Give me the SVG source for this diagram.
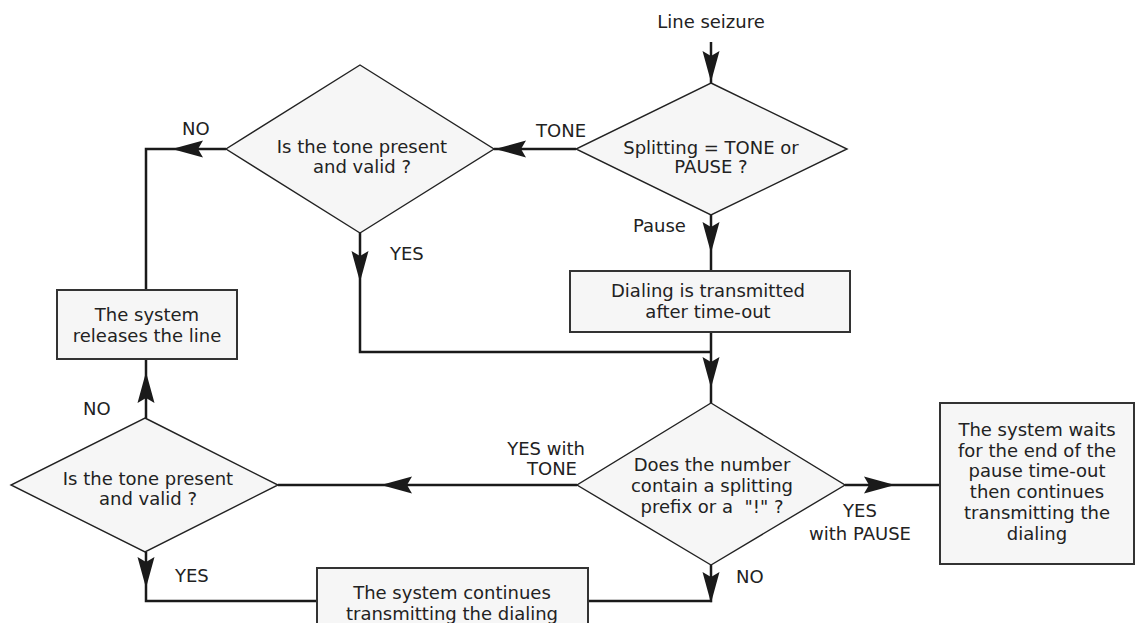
<svg xmlns="http://www.w3.org/2000/svg" xmlns:xlink="http://www.w3.org/1999/xlink" width="1136" height="623" viewBox="0 0 1136 623">
<style>
  text { font-family: "DejaVu Sans", "Liberation Sans", sans-serif; font-size: 18px; fill: #222; }
  .c { text-anchor: middle; }
  .shape { fill: #f6f6f6; stroke: #222; stroke-width: 1.4; }
  .box { fill: #f6f6f6; stroke: #333; stroke-width: 2; }
  .conn { fill: none; stroke: #1a1a1a; stroke-width: 2.5; }
  .ah { fill: #1a1a1a; }
</style>
<defs>
  <path id="ah" class="ah" d="M0,0 L-31,-8.5 L-26,0 L-31,8.5 Z"/>
</defs>
<rect width="1136" height="623" fill="#ffffff"/>

<g id="connectors">
  <path class="conn" d="M711,42 V83"/>
  <path class="conn" d="M576,149 H494"/>
  <path class="conn" d="M226,149 H146 V290"/>
  <path class="conn" d="M360,233 V352 H711"/>
  <path class="conn" d="M711,215 V271"/>
  <path class="conn" d="M711,332 V403"/>
  <path class="conn" d="M146,418 V359"/>
  <path class="conn" d="M577,485 H278"/>
  <path class="conn" d="M845,485 H940"/>
  <path class="conn" d="M146,552 V601 H317"/>
  <path class="conn" d="M711,565 V601 H588"/>
  <use xlink:href="#ah" href="#ah" transform="translate(711,82) rotate(90)"/>
  <use xlink:href="#ah" href="#ah" transform="translate(495,149) rotate(180)"/>
  <use xlink:href="#ah" href="#ah" transform="translate(172,149) rotate(180)"/>
  <use xlink:href="#ah" href="#ah" transform="translate(360,282) rotate(90)"/>
  <use xlink:href="#ah" href="#ah" transform="translate(711,253) rotate(90)"/>
  <use xlink:href="#ah" href="#ah" transform="translate(711,388) rotate(90)"/>
  <use xlink:href="#ah" href="#ah" transform="translate(146,372) rotate(-90)"/>
  <use xlink:href="#ah" href="#ah" transform="translate(381,485) rotate(180)"/>
  <use xlink:href="#ah" href="#ah" transform="translate(895,485)"/>
  <use xlink:href="#ah" href="#ah" transform="translate(146,588) rotate(90)"/>
  <use xlink:href="#ah" href="#ah" transform="translate(711,603) rotate(90)"/>
  <text class="c" x="711" y="28">Line seizure</text>
  <text x="536" y="137">TONE</text>
  <text x="182" y="135">NO</text>
  <text x="390" y="260">YES</text>
  <text x="633" y="232">Pause</text>
  <text x="83" y="415">NO</text>
  <text class="c" x="546" y="455">YES with</text>
  <text class="c" x="552" y="475">TONE</text>
  <text class="c" x="860" y="517">YES</text>
  <text class="c" x="860" y="540">with PAUSE</text>
  <text x="175" y="582">YES</text>
  <text x="736" y="583">NO</text>
</g>

<g id="splitting">
  <polygon class="shape" points="711,83 847,149 711,215 576,149"/>
  <text class="c" x="711" y="154">Splitting = TONE or</text>
  <text class="c" x="711" y="173">PAUSE ?</text>
</g>

<g id="tone-check-1">
  <polygon class="shape" points="360,65 494,149 360,233 226,149"/>
  <text class="c" x="362" y="153">Is the tone present</text>
  <text class="c" x="362" y="173">and valid ?</text>
</g>

<g id="release">
  <rect class="box" x="57" y="290" width="180" height="69"/>
  <text class="c" x="147" y="321">The system</text>
  <text class="c" x="147" y="342">releases the line</text>
</g>

<g id="dialing">
  <rect class="box" x="570" y="271" width="280" height="61"/>
  <text class="c" x="708" y="297">Dialing is transmitted</text>
  <text class="c" x="708" y="318">after time-out</text>
</g>

<g id="number-check">
  <polygon class="shape" points="711,403 845,485 711,565 577,485"/>
  <text class="c" x="712" y="471">Does the number</text>
  <text class="c" x="712" y="492">contain a splitting</text>
  <text class="c" x="712" y="513">prefix or a &#160;"!" ?</text>
</g>

<g id="pause-wait">
  <rect class="box" x="940" y="403" width="194" height="161"/>
  <text class="c" x="1037" y="436">The system waits</text>
  <text class="c" x="1037" y="457">for the end of the</text>
  <text class="c" x="1037" y="477">pause time-out</text>
  <text class="c" x="1037" y="498">then continues</text>
  <text class="c" x="1037" y="519">transmitting the</text>
  <text class="c" x="1037" y="540">dialing</text>
</g>

<g id="tone-check-2">
  <polygon class="shape" points="145,418 278,485 145,552 11,485"/>
  <text class="c" x="148" y="485">Is the tone present</text>
  <text class="c" x="148" y="505">and valid ?</text>
</g>

<g id="continues">
  <rect class="box" x="317" y="568" width="271" height="90"/>
  <text class="c" x="452" y="599">The system continues</text>
  <text class="c" x="452" y="620">transmitting the dialing</text>
</g>
</svg>
